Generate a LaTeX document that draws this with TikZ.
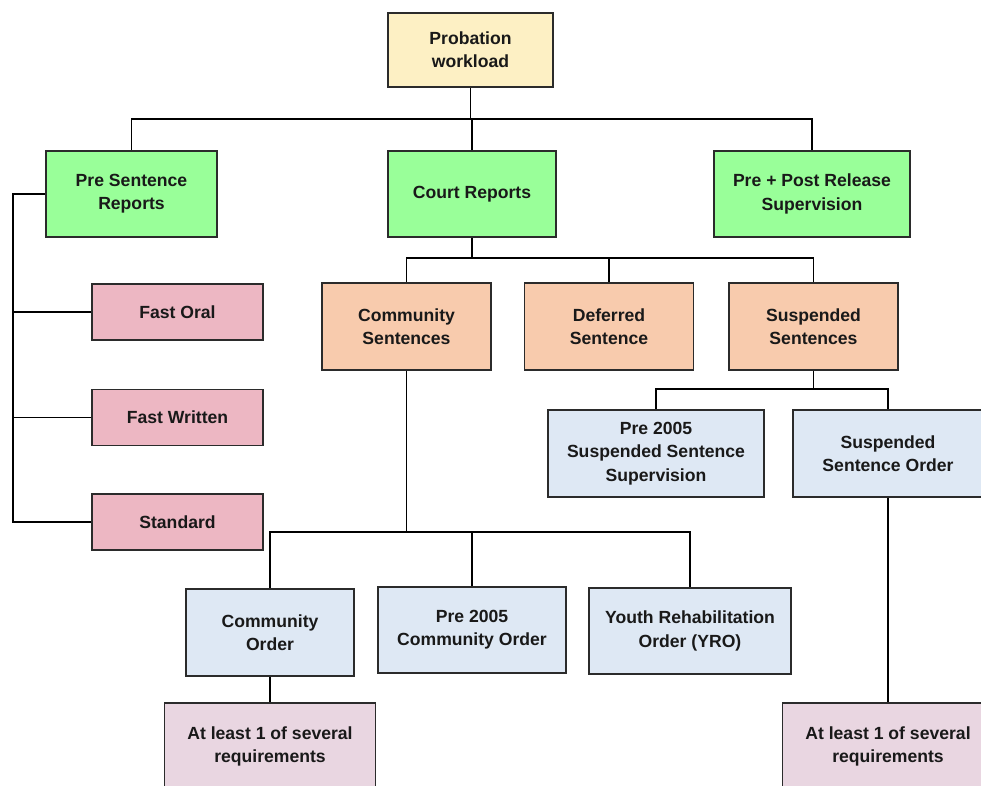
\documentclass[tikz,border=0pt]{standalone}
\usepackage{fontspec}
\setmainfont{Liberation Sans}
\definecolor{cream}{HTML}{FDF0C4}
\definecolor{lgreen}{HTML}{99FF99}
\definecolor{lpink}{HTML}{EDB7C3}
\definecolor{peach}{HTML}{F8CBAD}
\definecolor{lblue}{HTML}{DEE8F4}
\definecolor{mauve}{HTML}{E9D6E1}
\definecolor{edge}{HTML}{2B2B2B}
\tikzset{
    wh/.style 2 args={minimum width={#1*0.75pt}, minimum height={#2*0.75pt}},
    box/.style={draw=edge, line width=1.2pt, inner sep=0pt, align=center,
                font=\fontsize{13.2}{17.5}\selectfont\bfseries, text=black!90},
    link/.style={draw=black, line width=1pt}
}
\begin{document}
\begin{tikzpicture}[x=0.75pt, y=-0.75pt]
            \useasboundingbox (0,0) rectangle (981,785);

            % top level
            \node[box, fill=cream, wh={165}{74}] (prob) at (470.5, 50) {Probation\\workload};

            \node[box, fill=lgreen, wh={171}{86}] (psr)  at (131.5, 194) {Pre Sentence\\Reports};
            \node[box, fill=lgreen, wh={168}{86}] (court) at (472, 194) {Court Reports};
            \node[box, fill=lgreen, wh={196}{86}] (pprs) at (812, 194) {Pre + Post Release\\Supervision};

            % pre sentence reports
            \node[box, fill=lpink, wh={171}{56}] (fo)  at (177.5, 312) {Fast Oral};
            \node[box, fill=lpink, wh={171}{56}] (fw)  at (177.5, 417.5) {Fast Written};
            \node[box, fill=lpink, wh={171}{56}] (std) at (177.5, 522) {Standard};

            % court reports
            \node[box, fill=peach, wh={169}{87}] (comm) at (406.5, 326.5) {Community\\Sentences};
            \node[box, fill=peach, wh={169}{87}] (defr) at (609, 326.5) {Deferred\\Sentence};
            \node[box, fill=peach, wh={169}{87}] (susp) at (813.5, 326.5) {Suspended\\Sentences};

            \node[box, fill=lblue, wh={216}{87}] (pss) at (656, 453.5) {Pre 2005\\Suspended Sentence\\Supervision};
            \node[box, fill=lblue, wh={190}{87}] (sso) at (888, 453.5) {Suspended\\Sentence Order};

            \node[box, fill=lblue, wh={168}{87}] (co)  at (270, 632.5) {Community\\Order};
            \node[box, fill=lblue, wh={188}{86}] (pco) at (472, 630) {Pre 2005\\Community Order};
            \node[box, fill=lblue, wh={202}{86}] (yro) at (690, 631) {Youth Rehabilitation\\Order (YRO)};

            \node[box, fill=mauve, wh={211}{87}] (reqa) at (270, 746.5) {At least 1 of several\\requirements};
            \node[box, fill=mauve, wh={211}{87}] (reqb) at (888, 746.5) {At least 1 of several\\requirements};

            % bus lines
            \coordinate (busa) at (0, 119);
            \coordinate (busb) at (0, 258);
            \coordinate (busc) at (0, 389);
            \coordinate (busd) at (0, 532);
            \coordinate (side) at (13, 0);

            \draw[link] (prob.south) -- (prob.south |- busa);
            \draw[link] (psr.north) -- (psr.north |- busa) -| (pprs.north);
            \draw[link] (court.north) -- (court.north |- busa);

            \draw[link] (psr.west) -- (psr.west -| side) |- (std.west);
            \foreach \n in {fo, fw}
                \draw[link] (\n.west) -- (\n.west -| side);

            \draw[link] (court.south) -- (court.south |- busb);
            \draw[link] (comm.north) -- (comm.north |- busb) -| (susp.north);
            \draw[link] (defr.north) -- (defr.north |- busb);

            \draw[link] (susp.south) -- (susp.south |- busc);
            \draw[link] (pss.north) -- (pss.north |- busc) -| (sso.north);

            \draw[link] (comm.south) -- (comm.south |- busd);
            \draw[link] (co.north) -- (co.north |- busd) -| (yro.north);
            \draw[link] (pco.north) -- (pco.north |- busd);

            \draw[link] (co.south) -- (reqa.north);
            \draw[link] (sso.south) -- (reqb.north);
        \end{tikzpicture}
\end{document}
